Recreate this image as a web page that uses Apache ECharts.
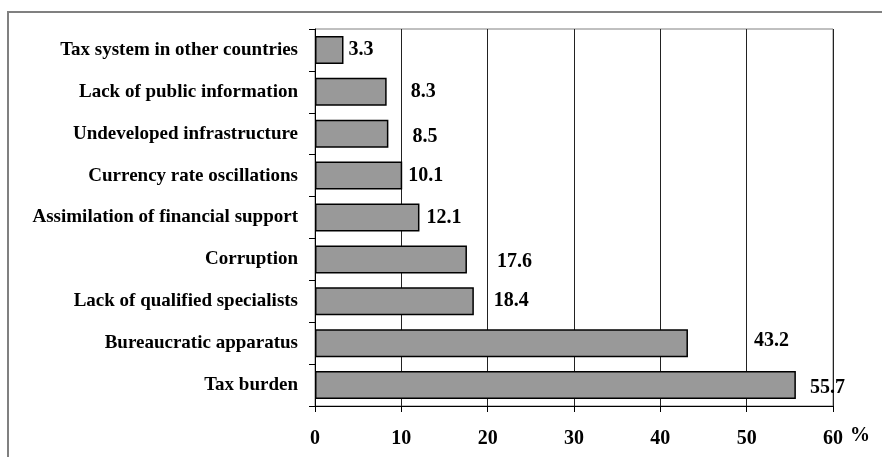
<!DOCTYPE html>
<html>
<head>
<meta charset="utf-8">
<script src="https://cdn.jsdelivr.net/npm/echarts@6/dist/echarts.min.js"></script>
<style>
html,body{margin:0;padding:0;background:#fff;}
#chart{width:882px;height:457px;}
</style>
</head>
<body>
<div id="chart"></div>
<script>
// ---- data ----
var categories = [
  'Tax system in other countries',
  'Lack of public information',
  'Undeveloped infrastructure',
  'Currency rate oscillations',
  'Assimilation of financial support',
  'Corruption',
  'Lack of qualified specialists',
  'Bureaucratic apparatus',
  'Tax burden'
];
var values = [3.3, 8.3, 8.5, 10.1, 12.1, 17.6, 18.4, 43.2, 55.7];
var xTicks = [0, 10, 20, 30, 40, 50, 60];
var unitLabel = '%';

// ---- label placement style (as in the original, labels were hand-moved) ----
var labelGap = [5, 24, 24, 6, 7, 30, 20, 66, 14];
var labelDy  = [0, 0, 3, 0, 0, 2, 0, -2, 3];

var FONT = '"Liberation Serif","Times New Roman",serif';

var chart = echarts.init(document.getElementById('chart'));
chart.setOption({
  animation: false,
  backgroundColor: '#ffffff',
  grid: {
    left: 315, right: 49, top: 29, bottom: 51,
    show: true, borderColor: '#808080', borderWidth: 1, containLabel: false
  },
  xAxis: {
    type: 'value',
    min: xTicks[0], max: xTicks[xTicks.length - 1], interval: 10,
    axisLine: { show: true, lineStyle: { color: '#000', width: 1 } },
    axisTick: { show: true, inside: false, length: 6, lineStyle: { color: '#000' } },
    axisLabel: {
      fontFamily: FONT, fontWeight: 'bold', fontSize: 20, color: '#000', margin: 23
    },
    splitLine: { show: true, lineStyle: { color: '#222', width: 1 } }
  },
  yAxis: {
    type: 'category',
    data: categories,
    inverse: true,
    axisLine: { show: true, lineStyle: { color: '#000', width: 1 } },
    axisTick: { show: true, length: 6, lineStyle: { color: '#000' } },
    axisLabel: {
      fontFamily: FONT, fontWeight: 'bold', fontSize: 19, color: '#000', margin: 17
    },
    splitLine: { show: false }
  },
  series: [{
    type: 'bar',
    barWidth: 28,
    data: values.map(function (v, i) {
      return {
        value: v,
        label: { distance: labelGap[i], offset: [0, labelDy[i]] }
      };
    }),
    itemStyle: { color: '#999999', borderColor: '#000', borderWidth: 1.5 },
    label: {
      show: true, position: 'right',
      fontFamily: FONT, fontWeight: 'bold', fontSize: 20, color: '#000'
    }
  }],
  graphic: [
    {
      type: 'rect', silent: true,
      shape: { x: 8, y: 12, width: 900, height: 500 },
      style: { fill: 'none', stroke: '#808080', lineWidth: 2 }
    },
    {
      type: 'text', left: 850, top: 426,
      style: { text: unitLabel, font: 'bold 20px ' + FONT, fill: '#000' }
    }
  ]
});
</script>
</body>
</html>
